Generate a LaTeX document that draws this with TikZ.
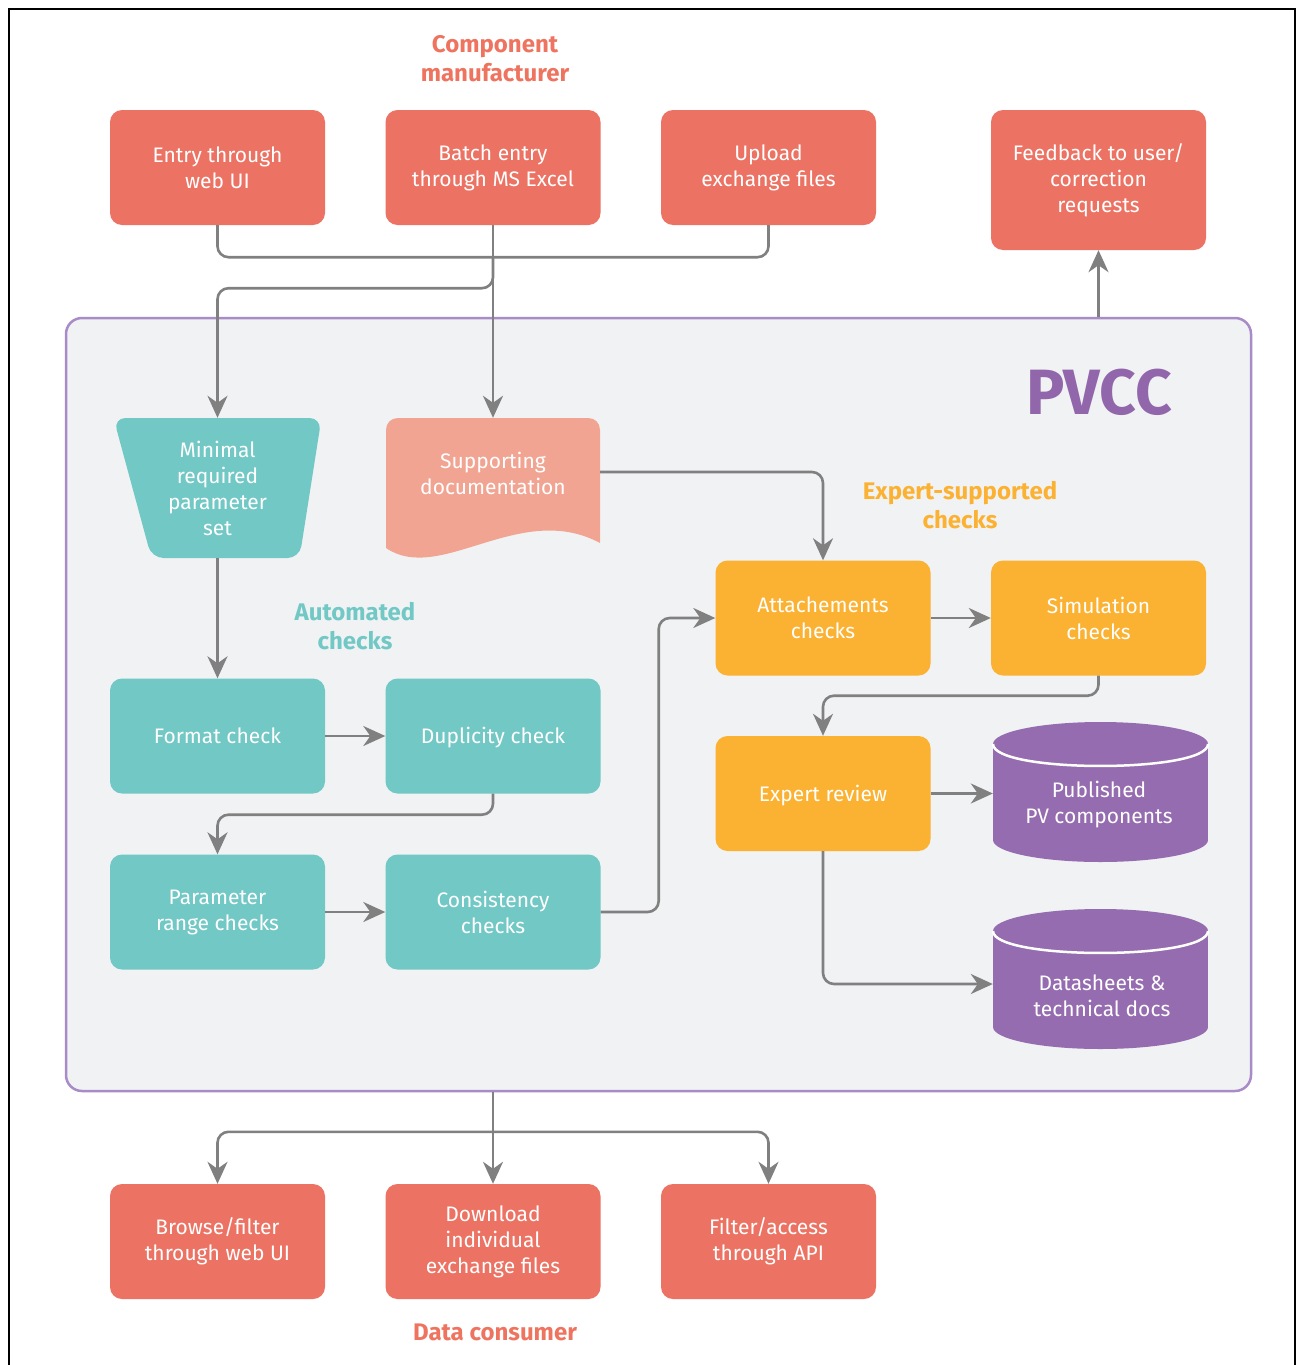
\documentclass[tikz,border=0pt]{standalone}
\usepackage{fontspec}
\setmainfont{Fira Sans}
\usetikzlibrary{arrows.meta,calc}
\definecolor{cred}{HTML}{EC7363}
\definecolor{cteal}{HTML}{71C8C5}
\definecolor{corange}{HTML}{FBB131}
\definecolor{cpurp}{HTML}{956CAF}
\definecolor{csalmon}{HTML}{F1A492}
\definecolor{cbg}{HTML}{F1F2F4}
\definecolor{cborder}{HTML}{A98BC8}
\definecolor{cline}{HTML}{808080}
\definecolor{ctitle}{HTML}{EE7460}
\definecolor{cpvcc}{HTML}{9166AB}
\newcommand\pvcyl[3]{%
  \fill[cpurp] (#1-107.5,#2+22) rectangle (#1+107.5,#3-22);
  \fill[cpurp] (#1,#2+22) ellipse [x radius=107.5, y radius=22];
  \fill[cpurp] (#1,#3-22) ellipse [x radius=107.5, y radius=22];
  \draw[white, line width=2.5pt] (#1-107.5,#2+22) .. controls (#1-107.5,#2+51.3) and (#1+107.5,#2+51.3) .. (#1+107.5,#2+22);
}
\begin{document}
\begin{tikzpicture}[x=1pt,y=-1pt,
  txt/.style={text=white, align=center, font=\fontsize{21}{26}\selectfont, inner sep=0pt},
  box/.style={txt, rectangle, rounded corners=12pt, minimum width=215pt, minimum height=115pt},
  redbox/.style={box, fill=cred},
  tealbox/.style={box, fill=cteal},
  orangebox/.style={box, fill=corange},
  oneline/.style={text height=15pt, text depth=0pt},
  ghost/.style={rectangle, inner sep=0pt, minimum width=215pt, minimum height=140pt},
  heading/.style={align=center, font=\bfseries\fontsize{24}{29}\selectfont, inner sep=0pt},
  conn/.style={draw=cline, line width=2.6pt, rounded corners=11pt},
  arr/.style={conn, -{Stealth[length=22pt, width=20pt, inset=7pt]}}
]
\useasboundingbox (0,0) rectangle (1302,1365);
\fill[white] (0,0) rectangle (1302,1365);
\draw[black, line width=2.5pt] (9,1365) -- (9,9) -- (1295,9) -- (1295,1365);

% container
\node[draw=cborder, fill=cbg, line width=2.5pt, rounded corners=16pt, minimum width=1185pt, minimum height=773pt, inner sep=0pt] (pvccbox) at (658.5,704.5) {};
\node[text=cpvcc, font=\bfseries\fontsize{64}{70}\selectfont, inner sep=0pt] (pvcc) at (1099,392) {PVCC};

% headings
\node[heading, text=ctitle] (mantitle) at (495,59) {Component\\manufacturer};
\node[heading, text=cteal] (autotitle) at (355,626) {Automated\\checks};
\node[heading, text=corange] (exptitle) at (960,505) {Expert-supported\\checks};
\node[heading, text=ctitle] (constitle) at (495,1332) {Data consumer};

% top boxes
\node[redbox] (entry) at (217.5,167.5) {Entry through\\web UI};
\node[redbox] (batch) at (493,167.5) {Batch entry\\through MS Excel};
\node[redbox] (upload) at (768.5,167.5) {Upload\\exchange files};
\node[redbox, minimum height=140pt] (feedback) at (1098.5,180) {Feedback to user/\\correction\\requests};

% minimal parameter set (trapezoid)
\fill[cteal, rounded corners=12pt] (113.5,418) -- (321.5,418) -- (299.5,558) -- (151.5,558) -- cycle;
\node[txt, minimum width=208pt, minimum height=140pt] (minimal) at (217.5,488) {Minimal\\required\\parameter\\set};

% supporting documentation
\fill[csalmon] (386,548) -- (386,430) .. controls (386,423) and (391,418) .. (398,418) -- (588,418) .. controls (595,418) and (600,423) .. (600,430) -- (600,543) .. controls (520,500) and (440,585) .. (386,548) -- cycle;
\node[ghost, minimum width=214pt] (supdoc) at (493,488) {};
\node[txt] (supdoctext) at (493,473) {Supporting\\documentation};

% automated checks
\node[tealbox, oneline] (format) at (217.5,736) {Format check};
\node[tealbox, oneline] (dup) at (493,736) {Duplicity check};
\node[tealbox] (param) at (217.5,912) {Parameter\\range checks};
\node[tealbox] (cons) at (493,912) {Consistency\\checks};

% expert checks
\node[orangebox] (attach) at (823,618) {Attachements\\checks};
\node[orangebox] (sim) at (1098.5,618) {Simulation\\checks};
\node[orangebox, oneline] (review) at (823,793.5) {Expert review};

% databases
\pvcyl{1100.5}{722}{862}
\pvcyl{1100.5}{909}{1049}
\node[ghost] (pub) at (1100.5,792) {};
\node[txt] (pubtext) at (1099,805) {Published\\PV components};
\node[ghost] (data) at (1100.5,979) {};
\node[txt] (datatext) at (1102,996) {Datasheets \&\\technical docs};

% bottom boxes
\node[redbox] (browse) at (217.5,1241.5) {Browse/filter\\through web UI};
\node[redbox] (download) at (493,1241.5) {Download\\individual\\exchange files};
\node[redbox] (filterapi) at (768.5,1241.5) {Filter/access\\through API};

% connectors top
\draw[conn] (entry.south) -- ++(0,32) -| (upload.south);
\coordinate (tjoin) at ($(batch.south)+(0,32)$);
\draw[arr] (batch.south) -- (supdoc.north);
\draw[arr] (tjoin) -- ++(0,31) -| (minimal.north);

% inside
\draw[arr] ([yshift=16pt]supdoc.east) -| (attach.north);
\draw[arr] (minimal.south) -- (format.north);
\draw[arr] (format.east) -- (dup.west);
\draw[arr] (dup.south) -- ++(0,21) -| (param.north);
\draw[arr] (param.east) -- (cons.west);
\draw[arr] (cons.east) -- ++(58,0) |- (attach.west);
\draw[arr] (attach.east) -- (sim.west);
\draw[arr] (sim.south) -- ++(0,20) -| (review.north);
\draw[arr] (review.east) -- (review.east -| pub.west);
\draw[arr] (review.south) |- ([yshift=-5pt]data.west);

% feedback
\draw[arr] (feedback.south |- pvccbox.north) -- (feedback.south);

% bottom
\coordinate (bsplit) at ($(download.north)+(0,-52)$);
\draw[arr] (pvccbox.south -| download.north) -- (download.north);
\draw[arr] (bsplit) -| (browse.north);
\draw[arr] (bsplit) -| (filterapi.north);
\end{tikzpicture}
\end{document}
